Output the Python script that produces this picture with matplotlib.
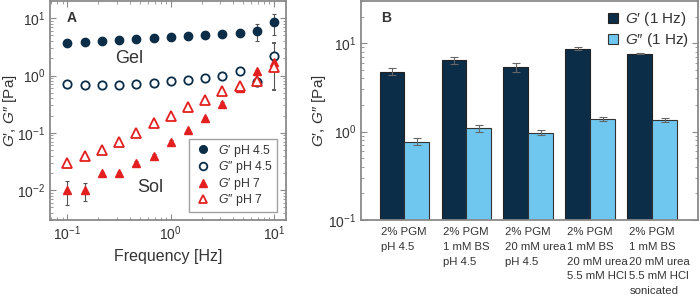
import numpy as np
import matplotlib.pyplot as plt
from matplotlib.lines import Line2D
from matplotlib.ticker import LogLocator

plt.rcParams['font.family'] = ['Liberation Sans', 'DejaVu Sans']
plt.rcParams['mathtext.fontset'] = 'custom'
plt.rcParams['mathtext.rm'] = 'Liberation Sans'
plt.rcParams['mathtext.it'] = 'Liberation Sans:italic'
plt.rcParams['axes.facecolor'] = 'white'
plt.rcParams['figure.facecolor'] = 'white'
plt.rcParams['axes.grid'] = False

# panel A data
freq = [0.1, 0.147, 0.215, 0.316, 0.464, 0.681, 1.0, 1.47, 2.15, 3.16, 4.64, 6.81, 10.0]
g1_ph45 = [3.65, 3.9, 4.05, 4.2, 4.3, 4.5, 4.75, 4.9, 5.1, 5.35, 5.6, 6.0, 8.6]
g1_ph45_err = [0.1, 0.1, 0.1, 0.1, 0.1, 0.1, 0.1, 0.1, 0.1, 0.1, 0.2, 2.0, 3.4]
g2_ph45 = [0.71, 0.69, 0.68, 0.69, 0.71, 0.73, 0.79, 0.83, 0.9, 0.99, 1.22, 0.77, 2.16]
g2_ph45_err = [0.05, 0.05, 0.05, 0.05, 0.05, 0.05, 0.05, 0.05, 0.05, 0.05, 0.08, 0.05, 1.6]
g1_ph7 = [0.01, 0.01, 0.02, 0.02, 0.03, 0.04, 0.07, 0.111, 0.18, 0.32, 0.61, 1.19, 1.7]
g1_ph7_err = [0.0045, 0.0035, 0.001, 0.001, 0.002, 0.002, 0.004, 0.006, 0.01, 0.02, 0.05, 0.08, 0.1]
g2_ph7 = [0.03, 0.04, 0.05, 0.07, 0.1, 0.149, 0.2, 0.28, 0.38, 0.53, 0.65, 0.79, 1.4]
g2_ph7_err = [0.002, 0.002, 0.003, 0.004, 0.005, 0.008, 0.01, 0.01, 0.02, 0.03, 0.04, 0.05, 0.1]

# panel B data
samples = ['2% PGM\npH 4.5', '2% PGM\n1 mM BS\npH 4.5', '2% PGM\n20 mM urea\npH 4.5',
           '2% PGM\n1 mM BS\n20 mM urea\n5.5 mM HCl',
           '2% PGM\n1 mM BS\n20 mM urea\n5.5 mM HCl\nsonicated']
gp_1hz = [4.78, 6.4, 5.35, 8.7, 7.57]
gp_1hz_err = [0.4, 0.6, 0.65, 0.3, 0.1]
gpp_1hz = [0.77, 1.09, 0.97, 1.38, 1.36]
gpp_1hz_err = [0.07, 0.09, 0.06, 0.07, 0.07]

navy = '#0c2d48'
red = '#e3201f'
light = '#6fc7ef'
frame = '#8a8a8a'
txt = '#333333'
ecol = '#555555'

fig = plt.figure(figsize=(7, 3.07), dpi=100)
axA = fig.add_axes([50 / 700, 87 / 307, 236 / 700, 219 / 307])
axB = fig.add_axes([361 / 700, 87 / 307, 337 / 700, 219 / 307])


def style(ax):
    for s in ax.spines.values():
        s.set_color(frame)
        s.set_linewidth(1.3)
    ax.tick_params(which='both', direction='in', color=frame, labelcolor=txt,
                   labelsize=10)
    ax.tick_params(which='major', length=4)
    ax.tick_params(which='minor', length=2)


GP = '$G$\u2032'
GPP = '$G$\u2033'

# ---- panel A
eb = dict(ecolor=ecol, elinewidth=0.8, capsize=1.5, capthick=0.8, linestyle='none')
axA.errorbar(freq, g1_ph45, yerr=g1_ph45_err, marker='o', ms=6, mfc=navy, mec=navy, **eb)
axA.errorbar(freq, g2_ph45, yerr=g2_ph45_err, marker='o', ms=6, mfc='white', mec=navy,
             mew=1.3, **eb)
axA.errorbar(freq, g1_ph7, yerr=g1_ph7_err, marker='^', ms=6, mfc=red, mec=red, **eb)
axA.errorbar(freq, g2_ph7, yerr=g2_ph7_err, marker='^', ms=6.5, mfc='white', mec=red,
             mew=1.3, **eb)
axA.set_xscale('log')
axA.set_yscale('log')
axA.set_xlim(0.068, 13)
axA.set_ylim(0.003, 20)
style(axA)
axA.tick_params(which='both', top=True, right=True)
axA.set_xlabel('Frequency [Hz]', fontsize=11.5, color=txt, labelpad=4)
axA.set_ylabel(GP + ', ' + GPP + ' [Pa]', fontsize=11, color=txt)
axA.yaxis.set_label_coords(-0.13, 0.5)
axA.text(0.4, 2.0, 'Gel', fontsize=13, color=txt, ha='center', va='center')
axA.text(0.64, 0.011, 'Sol', fontsize=13, color=txt, ha='center', va='center')
axA.text(0.07, 0.955, 'A', transform=axA.transAxes, fontsize=10, fontweight='bold',
         color=txt, va='top')
handles = [
    Line2D([], [], ls='none', marker='o', ms=5.5, mfc=navy, mec=navy),
    Line2D([], [], ls='none', marker='o', ms=5.5, mfc='white', mec=navy, mew=1.3),
    Line2D([], [], ls='none', marker='^', ms=5.5, mfc=red, mec=red),
    Line2D([], [], ls='none', marker='^', ms=6, mfc='white', mec=red, mew=1.3),
]
labels = [GP + ' pH 4.5', GPP + ' pH 4.5', GP + ' pH 7', GPP + ' pH 7']
leg = axA.legend(handles, labels, loc='lower right', fontsize=8.8, frameon=True,
                 fancybox=False, borderpad=0.3, handletextpad=0.3, labelspacing=0.05,
                 handlelength=1.8, borderaxespad=0, bbox_to_anchor=(0.96, 0.036))
leg.get_frame().set_edgecolor(frame)
leg.get_frame().set_linewidth(1.0)
for t in leg.get_texts():
    t.set_color(txt)

# ---- panel B
x = np.arange(len(samples))
w = 0.4
axB.bar(x - w / 2, gp_1hz, w, color=navy, edgecolor='#222222', linewidth=0.8)
axB.bar(x + w / 2, gpp_1hz, w, color=light, edgecolor='#333333', linewidth=0.8)
axB.errorbar(x - w / 2, gp_1hz, yerr=gp_1hz_err, fmt='none', ecolor='#666666',
             elinewidth=0.8, capsize=3, capthick=0.8)
axB.errorbar(x + w / 2, gpp_1hz, yerr=gpp_1hz_err, fmt='none', ecolor='#666666',
             elinewidth=0.8, capsize=3, capthick=0.8)
axB.set_yscale('log')
axB.set_ylim(0.1, 30)
axB.set_xlim(-0.7, 4.74)
style(axB)
axB.tick_params(which='both', right=True)
axB.yaxis.set_major_locator(LogLocator(base=10))
axB.set_xticks(x - w + 0.03)
axB.set_xticklabels(samples, ha='left', fontsize=8.2, linespacing=1.6)
axB.tick_params(axis='x', length=0, pad=5)
axB.set_ylabel(GP + ', ' + GPP + ' [Pa]', fontsize=11, color=txt)
axB.yaxis.set_label_coords(-0.098, 0.5)
axB.text(0.06, 0.955, 'B', transform=axB.transAxes, fontsize=10, fontweight='bold',
         color=txt, va='top')
hB = [
    Line2D([], [], ls='none', marker='s', ms=6.5, mfc=navy, mec='#222222', mew=0.8),
    Line2D([], [], ls='none', marker='s', ms=6.5, mfc=light, mec='#333333', mew=0.8),
]
legB = axB.legend(hB, [GP + ' (1 Hz)', GPP + ' (1 Hz)'], loc='upper right', fontsize=11,
                  frameon=False, handlelength=0.8, handletextpad=0.4, labelspacing=0.2,
                  borderaxespad=0.2)
for t in legB.get_texts():
    t.set_color(txt)

fig.savefig('out.png', dpi=100)
